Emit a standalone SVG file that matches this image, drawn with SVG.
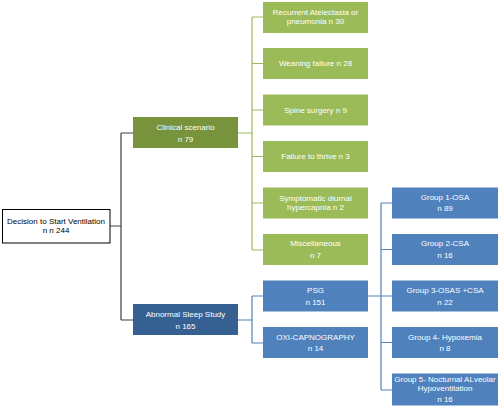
<svg xmlns="http://www.w3.org/2000/svg" width="500" height="407" viewBox="0 0 500 407">
<style>
text{font-family:"Liberation Sans",Arial,sans-serif;font-size:8px;fill:#fff;text-anchor:middle;dominant-baseline:central}
.root text{fill:#000}
.g rect{fill:#9BBB59}
.b rect{fill:#4F81BD}
.lk{fill:none;stroke:#404040;stroke-width:1.2}
.lg{fill:none;stroke:#9BBB59;stroke-width:1.2}
.lb{fill:none;stroke:#4F81BD;stroke-width:1.2}
</style>
<rect width="500" height="407" fill="#fff"/>
<g id="connectors">
<path class="lk" d="M110 226H121M121 133V320M121 133H133M121 320H133"/>
<path class="lg" d="M238 133H252M252 17V250M252 17H263M252 63.5H263M252 110H263M252 156.5H263M252 203H263M252 250H263"/>
<path class="lb" d="M238 320H252M252 296V343M252 296H263M252 343H263"/>
<path class="lb" d="M368 296H381M381 203V390M381 203H392M381 249.5H392M381 296H392M381 342.5H392M381 390H392"/>
</g>
<g id="root" class="root"><rect x="2.5" y="209.5" width="107.5" height="33.5" fill="#fff" stroke="#000" stroke-width="1"/><text x="56" y="221.7">Decision to Start Ventilation</text><text x="56" y="230.7">n n 244</text></g>
<g id="clinical"><rect x="133" y="117" width="105" height="31" fill="#77933C"/><text x="185.5" y="127">Clinical  scenario</text><text x="185.5" y="139">n 79</text></g>
<g id="sleep"><rect x="133" y="304" width="105" height="31" fill="#376092"/><text x="185.5" y="314">Abnormal  Sleep  Study</text><text x="185.5" y="326">n 165</text></g>
<g id="c1" class="g"><rect x="263" y="2" width="105" height="31"/><text x="315.5" y="12.7">Recurrent Atelectasia or</text><text x="315.5" y="21.7">pneumonia  n 30</text></g>
<g id="c2" class="g"><rect x="263" y="48" width="105" height="31"/><text x="315.5" y="63.5">Weaning failure n 28</text></g>
<g id="c3" class="g"><rect x="263" y="94.5" width="105" height="31"/><text x="315.5" y="110">Spine surgery n 9</text></g>
<g id="c4" class="g"><rect x="263" y="141" width="105" height="31"/><text x="315.5" y="156.5">Failure to thrive n 3</text></g>
<g id="c5" class="g"><rect x="263" y="187.5" width="105" height="31"/><text x="315.5" y="198.5">Symptomatic diurnal</text><text x="315.5" y="207.5">hypercapnia n 2</text></g>
<g id="c6" class="g"><rect x="263" y="234" width="105" height="31"/><text x="315.5" y="243.5">Miscellaneous</text><text x="315.5" y="255.5">n 7</text></g>
<g id="psg" class="b"><rect x="263" y="280.5" width="105" height="31"/><text x="315.5" y="290.5">PSG</text><text x="315.5" y="302">n 151</text></g>
<g id="oxi" class="b"><rect x="263" y="327" width="105" height="31"/><text x="315.5" y="337">OXI-CAPNOGRAPHY</text><text x="315.5" y="348.5">n 14</text></g>
<g id="g1" class="b"><rect x="392" y="187.5" width="106" height="31"/><text x="445" y="197">Group 1-OSA</text><text x="445" y="208.5">n 89</text></g>
<g id="g2" class="b"><rect x="392" y="234" width="106" height="31"/><text x="445" y="243.5">Group 2-CSA</text><text x="445" y="255">n 16</text></g>
<g id="g3" class="b"><rect x="392" y="280.5" width="106" height="31"/><text x="445" y="290.5">Group 3-OSAS  +CSA</text><text x="445" y="302">n 22</text></g>
<g id="g4" class="b"><rect x="392" y="327" width="106" height="31"/><text x="445" y="337">Group  4- Hypoxemia</text><text x="445" y="348.5">n 8</text></g>
<g id="g5" class="b"><rect x="392" y="373.5" width="106" height="32"/><text x="445" y="379.5">Group 5- Nocturnal ALveolar</text><text x="445" y="388.5">Hypoventilation</text><text x="445" y="399.5">n 16</text></g>
</svg>
